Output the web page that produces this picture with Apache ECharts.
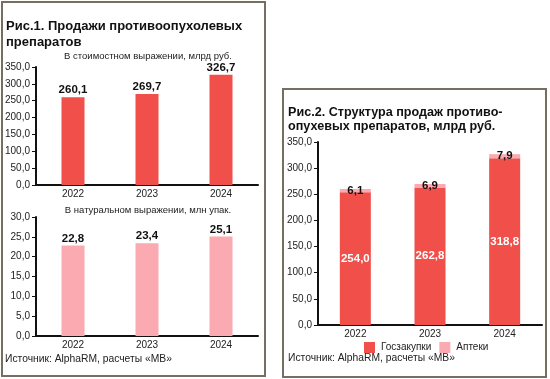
<!DOCTYPE html>
<html><head><meta charset="utf-8">
<script src="https://cdn.jsdelivr.net/npm/echarts@6/dist/echarts.min.js"></script>
<style>html,body{margin:0;padding:0;background:#fff;}#c{width:550px;height:379px;}</style>
</head><body><div id="c"></div>
<script>
var years = ['2022', '2023', '2024'];
var valueSales = [260.1, 269.7, 326.7];
var volumeSales = [22.8, 23.4, 25.1];
var govtPurchases = [254.0, 262.8, 318.8];
var pharmacies = [6.1, 6.9, 7.9];
var ticks350 = {min: 0, max: 350, interval: 50};
var ticks30 = {min: 0, max: 30, interval: 5};

var FONT = '"Liberation Sans", Arial, sans-serif';
var RED = '#f04f4a', PINK = '#fbaab1', BORDER = '#766e61';
function fmt(v) { return (typeof v === 'object' ? v.value : v).toFixed(1).replace('.', ','); }
function lbl(p) { return fmt(p.value); }

function yAxis(gi, t) {
  return {type: 'value', gridIndex: gi, min: t.min, max: t.max, interval: t.interval,
    axisLine: {show: true, lineStyle: {color: '#111', width: 2}},
    axisTick: {show: true, length: 4, lineStyle: {color: '#111', width: 1}},
    splitLine: {show: false},
    axisLabel: {formatter: function (v) { return v.toFixed(1).replace('.', ','); }, color: '#222', fontSize: 10, fontFamily: FONT, margin: 6}};
}
function xAxis(gi) {
  return {type: 'category', gridIndex: gi, data: years,
    axisLine: {show: true, lineStyle: {color: '#111', width: 2}},
    axisTick: {show: false},
    axisLabel: {color: '#222', fontSize: 10, fontFamily: FONT, margin: 4}};
}
function txt(t, x, y, size, weight, color, align) {
  return {type: 'text', x: x, y: y, silent: true,
    style: {text: t, font: (weight || 'normal') + ' ' + size + 'px ' + FONT, fill: color || '#111',
      textAlign: align || 'left', textVerticalAlign: 'middle'}};
}

var chart = echarts.init(document.getElementById('c'));
chart.setOption({
  animation: false,
  grid: [
    {left: 36, top: 67, width: 222, height: 118},
    {left: 36, top: 217, width: 222, height: 119},
    {left: 318, top: 142, width: 224, height: 183}
  ],
  xAxis: [xAxis(0), xAxis(1), xAxis(2)],
  yAxis: [yAxis(0, ticks350), yAxis(1, ticks30), yAxis(2, ticks350)],
  legend: {left: 364, top: 342, padding: 0, itemWidth: 11, itemHeight: 11, itemGap: 8, icon: 'rect',
    data: ['Госзакупки', 'Аптеки'],
    textStyle: {fontSize: 10, fontFamily: FONT, color: '#222', padding: [0, 0, 0, 1]}},
  series: [
    {type: 'bar', xAxisIndex: 0, yAxisIndex: 0, data: valueSales, barWidth: 23,
      itemStyle: {color: RED},
      label: {show: true, position: 'top', distance: 1, formatter: lbl, fontSize: 11.5, fontWeight: 'bold', color: '#111', fontFamily: FONT}},
    {type: 'bar', xAxisIndex: 1, yAxisIndex: 1, data: volumeSales, barWidth: 23,
      itemStyle: {color: PINK},
      label: {show: true, position: 'top', distance: 1, formatter: lbl, fontSize: 11.5, fontWeight: 'bold', color: '#111', fontFamily: FONT}},
    {name: 'Госзакупки', type: 'bar', stack: 's', xAxisIndex: 2, yAxisIndex: 2, data: govtPurchases, barWidth: 31,
      itemStyle: {color: RED},
      label: {show: true, position: 'inside', formatter: lbl, fontSize: 11.5, fontWeight: 'bold', color: '#fff', fontFamily: FONT}},
    {name: 'Аптеки', type: 'bar', stack: 's', xAxisIndex: 2, yAxisIndex: 2, data: pharmacies, barWidth: 31,
      itemStyle: {color: PINK},
      label: {show: true, position: 'inside', formatter: lbl, fontSize: 11.5, fontWeight: 'bold', color: '#111', fontFamily: FONT}}
  ],
  graphic: [
    {type: 'rect', shape: {x: 2, y: 2, width: 263, height: 374}, silent: true, z: -1,
      style: {fill: '#fff', stroke: BORDER, lineWidth: 2}},
    {type: 'rect', shape: {x: 283, y: 89, width: 263, height: 288}, silent: true, z: -1,
      style: {fill: '#fff', stroke: BORDER, lineWidth: 2}},
    txt('Рис.1. Продажи противоопухолевых', 6, 26, 13, 'bold'),
    txt('препаратов', 6, 42, 13, 'bold'),
    txt('В стоимостном выражении, млрд руб.', 148, 56, 9.5, 'normal', '#222', 'center'),
    txt('В натуральном выражении, млн упак.', 148, 210, 9.5, 'normal', '#222', 'center'),
    txt('Источник: AlphaRM, расчеты «МВ»', 5, 359, 10.3, 'normal', '#222'),
    txt('Рис.2. Структура продаж противо-', 288, 113, 12.6, 'bold'),
    txt('опухевых препаратов, млрд руб.', 288, 127, 12.6, 'bold'),
    txt('Источник: AlphaRM, расчеты «МВ»', 288, 358, 10.3, 'normal', '#222')
  ]
});
</script></body></html>
